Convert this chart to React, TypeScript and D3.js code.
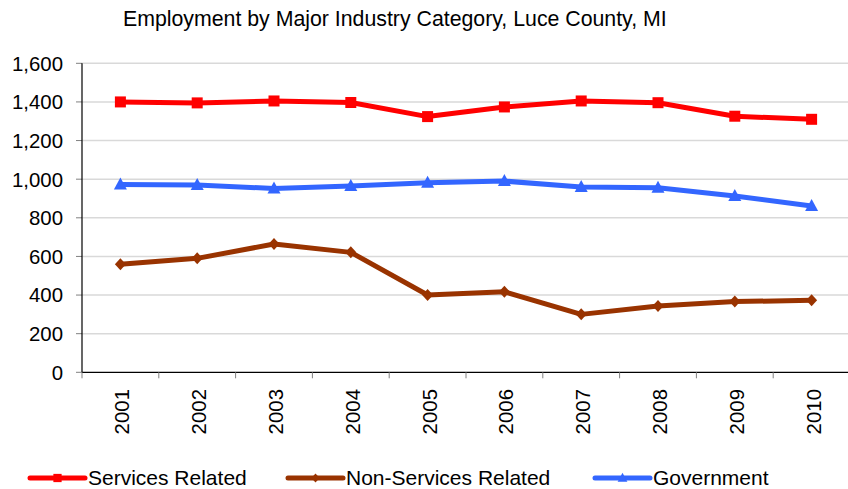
import React from "react";
import * as d3 from "d3";

const years = ["2001","2002","2003","2004","2005","2006","2007","2008","2009","2010"];
const servicesRelated = [1400, 1395, 1405, 1397, 1324, 1374, 1405, 1396, 1326, 1310];
const nonServicesRelated = [559, 590, 664, 621, 400, 417, 300, 343, 366, 373];
const government = [972, 970, 952, 965, 982, 990, 960, 956, 913, 861];
const yTicks = [0, 200, 400, 600, 800, 1000, 1200, 1400, 1600];

const W = 848, H = 489;
const left = 82, right = 850, top = 63.3, bottom = 372.3;

const series = [
  { name: "Services Related", values: servicesRelated, color: "#FF0000", marker: "square" },
  { name: "Non-Services Related", values: nonServicesRelated, color: "#993300", marker: "diamond" },
  { name: "Government", values: government, color: "#3366FF", marker: "triangle" },
];

function Marker({ type, x, y, color, s = 1 }: { type: string; x: number; y: number; color: string; s?: number }) {
  if (type === "square") return <rect x={x - 5.5 * s} y={y - 5.5 * s} width={11 * s} height={11 * s} fill={color} />;
  if (type === "diamond") return <path d={`M${x},${y - 6 * s}L${x + 5.5 * s},${y}L${x},${y + 6 * s}L${x - 5.5 * s},${y}Z`} fill={color} />;
  return <path d={`M${x},${y - 7 * s}L${x + 6.5 * s},${y + 5 * s}L${x - 6.5 * s},${y + 5 * s}Z`} fill={color} />;
}

export default function App() {
  const x = d3.scaleBand().domain(years).range([left, right]);
  const y = d3.scaleLinear().domain([0, 1600]).range([bottom, top]);
  const cx = (d: string) => (x(d) as number) + x.bandwidth() / 2;
  const line = d3.line<number>().x((_, i) => cx(years[i])).y((v) => y(v));
  const font = "Arial, 'Liberation Sans', sans-serif";
  const legendItems = [
    { s: series[0], lx: 30 },
    { s: series[1], lx: 288 },
    { s: series[2], lx: 595 },
  ];
  return (
    <svg width={W} height={H} style={{ position: "absolute", left: 0, top: 0 }} fontFamily={font}>
      <rect width={W} height={H} fill="#fff" />
      <text x={123} y={26} fontSize={21.3} fill="#000">
        Employment by Major Industry Category, Luce County, MI
      </text>
      {yTicks.filter((t) => t > 0).map((t) => (
        <line key={t} x1={left} x2={W} y1={y(t)} y2={y(t)} stroke="#d9d9d9" strokeWidth={1.5} />
      ))}
      {yTicks.map((t) => (
        <g key={"yt" + t}>
          <line x1={left - 6} x2={left} y1={y(t)} y2={y(t)} stroke="#808080" strokeWidth={1} />
          <text x={63} y={y(t)} dy="0.36em" textAnchor="end" fontSize={20.4} fill="#000">
            {d3.format(",")(t)}
          </text>
        </g>
      ))}
      <line x1={left} x2={left} y1={top} y2={bottom} stroke="#000" strokeWidth={1.2} />
      <line x1={left} x2={W} y1={bottom} y2={bottom} stroke="#000" strokeWidth={1.2} />
      {years.map((yr, i) => (
        <line key={"xt" + yr} x1={left + i * x.step()} x2={left + i * x.step()} y1={bottom} y2={bottom + 6} stroke="#808080" strokeWidth={1} />
      ))}
      {years.map((yr) => (
        <text key={"xl" + yr} transform={`translate(${cx(yr) + 9},${389}) rotate(-90)`} textAnchor="end" fontSize={20.4} fill="#000">
          {yr}
        </text>
      ))}
      {series.map((s) => (
        <g key={s.name}>
          <path d={line(s.values) || ""} fill="none" stroke={s.color} strokeWidth={5} strokeLinejoin="round" />
          {s.values.map((v, i) => (
            <Marker key={i} type={s.marker} x={cx(years[i])} y={y(v)} color={s.color} />
          ))}
        </g>
      ))}
      {legendItems.map(({ s, lx }) => (
        <g key={"lg" + s.name}>
          <line x1={lx} x2={lx + 55} y1={478} y2={478} stroke={s.color} strokeWidth={5} strokeLinecap="round" />
          <Marker type={s.marker} x={lx + 27.5} y={478} color={s.color} s={0.75} />
          <text x={lx + 58} y={484.5} fontSize={21} fill="#000">{s.name}</text>
        </g>
      ))}
    </svg>
  );
}
